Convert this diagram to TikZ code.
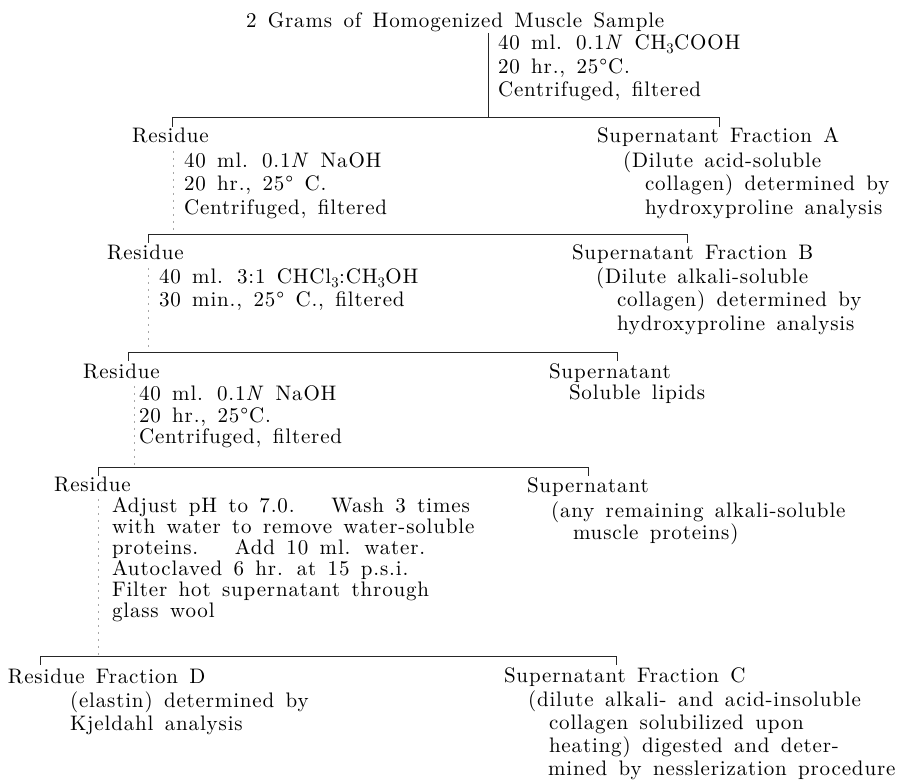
\documentclass[tikz,border=0pt]{standalone}
\usepackage{fontspec}
\setmainfont{lmroman10-regular.otf}[ItalicFont=lmroman10-italic.otf,LetterSpace=4,WordSpace=1.45]
\begin{document}
\begin{tikzpicture}[x=1pt,y=-1pt]
\tikzset{
  txt/.style={anchor=base west, inner sep=0pt, outer sep=0pt, font=\fontsize{21}{24}\selectfont},
  rule/.style={line width=0.8pt, black!85},
  faint/.style={line width=0.6pt, black!35, dash pattern=on 2pt off 5pt},
}
\fill[white] (0,0) rectangle (898,783);
\useasboundingbox (0,0) rectangle (898,783);

% ---- level 0
\node[txt] (title) at (246,28) {2 Grams of Homogenized Muscle Sample};
\node[txt] (s0a) at (498,50) {40 ml. 0.1\textit{N} CH\textsubscript{3}COOH};
\node[txt] (s0b) at (498,73.5) {20 hr., 25°C.};
\node[txt] (s0c) at (498,97) {Centrifuged, filtered};

% ---- level 1
\node[txt] (r1) at (132,143) {Residue};
\node[txt] (r1a) at (184,167.5) {40 ml. 0.1\textit{N} NaOH};
\node[txt] (r1b) at (184,191) {20 hr., 25° C.};
\node[txt] (r1c) at (184,214.5) {Centrifuged, filtered};
\node[txt] (sa) at (597,143) {Supernatant Fraction A};
\node[txt] (saa) at (623,167.5) {(Dilute acid-soluble};
\node[txt] (sab) at (645,191) {collagen) determined by};
\node[txt] (sac) at (645,214.5) {hydroxyproline analysis};

% ---- level 2
\node[txt] (r2) at (107,260) {Residue};
\node[txt] (r2a) at (159,284) {40 ml. 3:1 CHCl\textsubscript{3}:CH\textsubscript{3}OH};
\node[txt] (r2b) at (159,307) {30 min., 25° C., filtered};
\node[txt] (sb) at (572,260) {Supernatant Fraction B};
\node[txt] (sba) at (596,283.5) {(Dilute alkali-soluble};
\node[txt] (sbb) at (617,307) {collagen) determined by};
\node[txt] (sbc) at (617,330.5) {hydroxyproline analysis};

% ---- level 3
\node[txt] (r3) at (83,378.5) {Residue};
\node[txt] (r3a) at (139,401) {40 ml. 0.1\textit{N} NaOH};
\node[txt] (r3b) at (139,422.5) {20 hr., 25°C.};
\node[txt] (r3c) at (139,444) {Centrifuged, filtered};
\node[txt] (sl) at (549,378.5) {Supernatant};
\node[txt] (sla) at (569,400) {Soluble lipids};

% ---- level 4
\node[txt] (r4) at (54,492) {Residue};
\node[txt] (r4a) at (112,512.5) {Adjust pH to 7.0. \ \ Wash 3 times};
\node[txt] (r4b) at (112,534) {with water to remove water-soluble};
\node[txt] (r4c) at (112,555) {proteins. \ \ Add 10 ml. water.};
\node[txt] (r4d) at (112,576) {Autoclaved 6 hr. at 15 p.s.i.};
\node[txt] (r4e) at (112,597) {Filter hot supernatant through};
\node[txt] (r4f) at (112,618) {glass wool};
\node[txt] (sp) at (527,493) {Supernatant};
\node[txt] (spa) at (551,517.5) {(any remaining alkali-soluble};
\node[txt] (spb) at (573,539.5) {muscle proteins)};

% ---- level 5
\node[txt] (rd) at (8,684) {Residue Fraction D};
\node[txt] (rda) at (70,707.5) {(elastin) determined by};
\node[txt] (rdb) at (70,730) {Kjeldahl analysis};
\node[txt] (sc) at (504,682.5) {Supernatant Fraction C};
\node[txt] (sca) at (528,706.5) {(dilute alkali- and acid-insoluble};
\node[txt] (scb) at (549,729.5) {collagen solubilized upon};
\node[txt] (scc) at (549,752.5) {heating) digested and deter-};
\node[txt] (scd) at (548,775.5) {mined by nesslerization procedure};

% ---- connectors
\coordinate (v0) at (488,33);
\coordinate (b1m) at (488,117);
\coordinate (b1l) at (172,117); \coordinate (b1lt) at (172,127);
\coordinate (b1r) at (719,117); \coordinate (b1rt) at (719,127);
\draw[rule] (v0) -- (b1m);
\draw[rule] (b1lt) -- (b1l) -- (b1r) -- (b1rt);

\coordinate (v1) at (173,151); \coordinate (b2m) at (173,234);
\coordinate (b2l) at (148,234); \coordinate (b2lt) at (148,243);
\coordinate (b2r) at (687,234); \coordinate (b2rt) at (687,243);
\draw[faint] (v1) -- (b2m);
\draw[rule] (b2lt) -- (b2l) -- (b2r) -- (b2rt);

\coordinate (v2) at (148,268); \coordinate (b3m) at (148,352);
\coordinate (b3l) at (128,352); \coordinate (b3lt) at (128,361);
\coordinate (b3r) at (617,352); \coordinate (b3rt) at (617,361);
\draw[faint] (v2) -- (b3m);
\draw[rule] (b3lt) -- (b3l) -- (b3r) -- (b3rt);

\coordinate (v3) at (134,386); \coordinate (b4m) at (134,467);
\coordinate (b4l) at (98,467); \coordinate (b4lt) at (98,476);
\coordinate (b4r) at (588,467); \coordinate (b4rt) at (588,476);
\draw[faint] (v3) -- (b4m);
\draw[rule] (b4lt) -- (b4l) -- (b4r) -- (b4rt);

\coordinate (v4) at (98,499); \coordinate (b5m) at (98,656);
\coordinate (b5l) at (40,656); \coordinate (b5lt) at (40,665);
\coordinate (b5r) at (616,656); \coordinate (b5rt) at (616,665);
\draw[faint] (v4) -- (b5m);
\draw[rule] (b5lt) -- (b5l) -- (b5r) -- (b5rt);
\end{tikzpicture}
\end{document}
